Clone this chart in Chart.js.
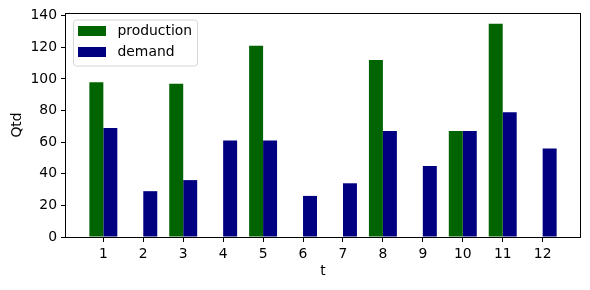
<!DOCTYPE html>
<html>
<head>
<meta charset="utf-8">
<script src="https://cdn.jsdelivr.net/npm/chart.js@4/dist/chart.umd.min.js"></script>
<style>
  body { margin: 0; background: #fff; }
  #wrap { width: 590px; height: 290px; }
</style>
</head>
<body>
<div id="wrap"><canvas id="chart" width="590" height="290"></canvas></div>
<script>
// Datos
const tLabels = [1, 2, 3, 4, 5, 6, 7, 8, 9, 10, 11, 12];
const production = [98, 0, 97, 0, 121, 0, 0, 112, 0, 67, 135, 0];
const demand = [69, 29, 36, 61, 61, 26, 34, 67, 45, 67, 79, 56];
const yTicks = [0, 20, 40, 60, 80, 100, 120, 140];

Chart.defaults.font.family = 'DejaVu Sans';
Chart.defaults.font.size = 13.9;
Chart.defaults.color = '#000';

// Marco completo alrededor del área de datos
const frame = {
  id: 'frame',
  afterDraw(chart) {
    const { ctx, chartArea: a } = chart;
    ctx.save();
    ctx.strokeStyle = '#000';
    ctx.lineWidth = 1;
    ctx.strokeRect(Math.round(a.left) - 0.5, Math.round(a.top) + 0.5,
      Math.round(a.right - a.left) + 1, Math.round(a.bottom - a.top));
    ctx.restore();
  }
};

// Leyenda dentro del área, arriba a la izquierda
const legendBox = {
  id: 'legendBox',
  afterDatasetsDraw(chart) {
    const { ctx, chartArea: a } = chart;
    const x = a.left + 7.5, y = a.top + 7;
    ctx.save();
    ctx.beginPath();
    ctx.roundRect(x, y, 124, 46, 3);
    ctx.fillStyle = 'rgba(255,255,255,0.8)';
    ctx.fill();
    ctx.strokeStyle = '#d6d6d6';
    ctx.lineWidth = 1;
    ctx.stroke();
    ctx.font = '13.9px "DejaVu Sans"';
    ctx.textBaseline = 'middle';
    chart.data.datasets.forEach((ds, i) => {
      ctx.fillStyle = ds.backgroundColor;
      ctx.fillRect(x + 4.5, y + 6 + i * 21, 28, 10);
      ctx.fillStyle = '#000';
      ctx.fillText(ds.label, x + 44, y + 11 + i * 21);
    });
    ctx.restore();
  }
};

new Chart(document.getElementById('chart'), {
  type: 'bar',
  data: {
    datasets: [
      {
        label: 'production',
        data: production.map((v, i) => ({ x: tLabels[i], y: v })),
        backgroundColor: '#006400'
      },
      {
        label: 'demand',
        data: demand.map((v, i) => ({ x: tLabels[i], y: v })),
        backgroundColor: '#000080'
      }
    ]
  },
  options: {
    responsive: false,
    animation: false,
    categoryPercentage: 0.7,
    barPercentage: 1.0,
    elements: { bar: { borderWidth: 0, inflateAmount: 0 } },
    layout: { padding: { top: 13, right: 10, left: 0, bottom: 0 } },
    plugins: { legend: { display: false }, tooltip: { enabled: false } },
    scales: {
      x: {
        type: 'linear',
        offset: false,
        min: 0.065,
        max: 12.935,
        afterBuildTicks: axis => { axis.ticks = tLabels.map(v => ({ value: v })); },
        afterFit: axis => { axis.height = 53; },
        grid: { offset: false, drawOnChartArea: false, drawTicks: true, tickLength: 5, tickColor: '#000', tickWidth: 1 },
        border: { display: false },
        ticks: { padding: 4, autoSkip: false, maxRotation: 0 },
        title: { display: true, text: 't', padding: { top: 0, bottom: 10 } }
      },
      y: {
        min: 0,
        max: 141.75,
        afterBuildTicks: axis => { axis.ticks = yTicks.map(v => ({ value: v })); },
        afterFit: axis => { axis.width = 66; },
        grid: { drawOnChartArea: false, drawTicks: true, tickLength: 5, tickColor: '#000', tickWidth: 1 },
        border: { display: false },
        ticks: { padding: 4 },
        title: { display: true, text: 'Qtd', padding: { top: 9, bottom: 0 } }
      }
    }
  },
  plugins: [frame, legendBox]
});
</script>
</body>
</html>
